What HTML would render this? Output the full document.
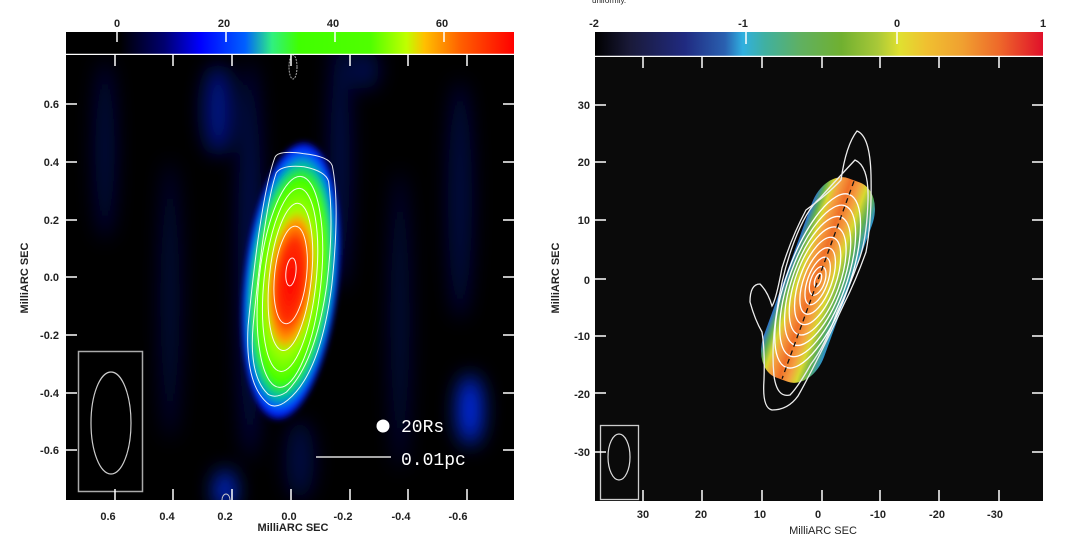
<!DOCTYPE html>
<html><head><meta charset="utf-8"><style>
html,body{margin:0;padding:0;background:#fff;}
svg{display:block;}
text{font-family:"Liberation Sans",sans-serif;font-weight:bold;font-size:11px;fill:#222;}
.m{font-family:"Liberation Mono",monospace;font-weight:normal;font-size:18px;fill:#fff;}
</style></head><body>
<svg width="1075" height="547" viewBox="0 0 1075 547">
<defs>
<linearGradient id="cb1" x1="0" x2="1" y1="0" y2="0">
<stop offset="0" stop-color="#000"/><stop offset="0.12" stop-color="#000"/>
<stop offset="0.22" stop-color="#000070"/><stop offset="0.3" stop-color="#0000ff"/>
<stop offset="0.4" stop-color="#0060ff"/><stop offset="0.46" stop-color="#30f080"/>
<stop offset="0.52" stop-color="#40ff00"/><stop offset="0.68" stop-color="#50ff00"/>
<stop offset="0.76" stop-color="#c0ff00"/><stop offset="0.8" stop-color="#ffc000"/>
<stop offset="0.88" stop-color="#ff6000"/><stop offset="1" stop-color="#ff0000"/>
</linearGradient>
<linearGradient id="cb2" x1="0" x2="1" y1="0" y2="0">
<stop offset="0" stop-color="#000"/><stop offset="0.08" stop-color="#1a1a3a"/>
<stop offset="0.2" stop-color="#202a80"/><stop offset="0.29" stop-color="#2a60b0"/>
<stop offset="0.33" stop-color="#30b0e0"/><stop offset="0.38" stop-color="#40b0a0"/>
<stop offset="0.46" stop-color="#60b060"/><stop offset="0.55" stop-color="#70b030"/>
<stop offset="0.63" stop-color="#a8c838"/><stop offset="0.68" stop-color="#e0e030"/>
<stop offset="0.74" stop-color="#f0c030"/><stop offset="0.82" stop-color="#f0a030"/>
<stop offset="0.9" stop-color="#ee6a2a"/><stop offset="1" stop-color="#e0102a"/>
</linearGradient>
<radialGradient id="src1" cx="0.5" cy="0.5" r="0.5">
<stop offset="0" stop-color="#ff0000"/><stop offset="0.28" stop-color="#ff3000"/>
<stop offset="0.42" stop-color="#ffa000"/><stop offset="0.5" stop-color="#a0ff00"/>
<stop offset="0.72" stop-color="#40ff00"/><stop offset="0.82" stop-color="#00c0a0"/>
<stop offset="0.9" stop-color="#0050ff"/><stop offset="0.96" stop-color="#0010e0"/>
<stop offset="1" stop-color="#000030" stop-opacity="0"/>
</radialGradient>
<linearGradient id="src2" x1="0" x2="1" y1="0" y2="0">
<stop offset="0" stop-color="#2a70d0"/><stop offset="0.1" stop-color="#60b050"/>
<stop offset="0.2" stop-color="#d8d830"/><stop offset="0.3" stop-color="#f4a040"/>
<stop offset="0.45" stop-color="#f07028"/><stop offset="0.6" stop-color="#f4a040"/>
<stop offset="0.72" stop-color="#d8d830"/><stop offset="0.86" stop-color="#60b050"/>
<stop offset="1" stop-color="#2a90d0"/>
</linearGradient>
<filter id="bl" x="-50%" y="-50%" width="200%" height="200%"><feGaussianBlur stdDeviation="10"/></filter>
<filter id="bl2" x="-50%" y="-50%" width="200%" height="200%"><feGaussianBlur stdDeviation="3"/></filter>
<clipPath id="c1"><rect x="66" y="55" width="448" height="445"/></clipPath>
</defs>

<!-- LEFT PANEL -->
<rect x="66" y="32" width="448" height="22" fill="url(#cb1)"/>
<g stroke="#fff" stroke-width="1.5">
<line x1="117" y1="32" x2="117" y2="42"/><line x1="226" y1="32" x2="226" y2="42"/>
<line x1="335" y1="32" x2="335" y2="42"/><line x1="444" y1="32" x2="444" y2="42"/>
<line x1="66" y1="54.5" x2="514" y2="54.5"/>
</g>
<text x="117" y="27" text-anchor="middle">0</text><text x="224" y="27" text-anchor="middle">20</text>
<text x="333" y="27" text-anchor="middle">40</text><text x="442" y="27" text-anchor="middle">60</text>

<rect x="66" y="55" width="448" height="445" fill="#000"/>
<g clip-path="url(#c1)">
<g filter="url(#bl)" fill="#0018c0">
<ellipse cx="218" cy="110" rx="14" ry="45" opacity="0.7"/>
<ellipse cx="105" cy="150" rx="10" ry="90" opacity="0.35"/>
<ellipse cx="170" cy="300" rx="10" ry="140" opacity="0.3"/>
<ellipse cx="250" cy="260" rx="12" ry="200" opacity="0.4"/>
<ellipse cx="340" cy="160" rx="10" ry="130" opacity="0.4"/>
<ellipse cx="400" cy="320" rx="10" ry="150" opacity="0.3"/>
<ellipse cx="460" cy="200" rx="12" ry="120" opacity="0.35"/>
<ellipse cx="470" cy="410" rx="12" ry="35" fill="#0030ff" opacity="0.95"/>
<ellipse cx="225" cy="490" rx="10" ry="20" fill="#0030ff" opacity="0.9"/>
<ellipse cx="300" cy="460" rx="14" ry="40" opacity="0.35"/>
<ellipse cx="365" cy="70" rx="14" ry="20" opacity="0.4"/>
</g>
<g transform="rotate(6 291 281)">
<ellipse cx="291" cy="281" rx="48" ry="142" fill="url(#src1)" filter="url(#bl2)"/>
<g fill="none" stroke="#fff" stroke-width="1" opacity="0.9">
<path d="M262 160 Q264 152 290 153 Q316 153 320 162 Q332 200 332 281 Q330 370 300 400 Q290 410 282 406 Q256 390 253 330 Q252 200 262 160 Z"/>
<path d="M265 175 Q270 166 292 166 Q314 168 318 178 Q328 220 327 281 Q324 360 298 392 Q288 400 280 396 Q259 380 258 330 Q257 210 265 175 Z"/>
<ellipse cx="290" cy="282" rx="31" ry="106"/>
<ellipse cx="290" cy="280" rx="26" ry="92"/>
<ellipse cx="290" cy="277" rx="21" ry="74"/>
<ellipse cx="290" cy="275" rx="16" ry="49"/>
<ellipse cx="290" cy="272" rx="5" ry="14"/>
</g>
</g>
<ellipse cx="293" cy="67" rx="4" ry="12" fill="none" stroke="#aaa" stroke-dasharray="2 1"/>
<ellipse cx="226" cy="500" rx="4" ry="6" fill="none" stroke="#ccc"/>
</g>
<rect x="78.5" y="351.5" width="64" height="140" fill="none" stroke="#aaa" stroke-width="1.5"/>
<ellipse cx="111" cy="423" rx="20" ry="51" fill="none" stroke="#ccc" stroke-width="1.2"/>
<circle cx="383" cy="426" r="6.5" fill="#fff"/>
<text class="m" x="401" y="432">20Rs</text>
<line x1="316" y1="457" x2="391" y2="457" stroke="#ddd" stroke-width="1.5"/>
<text class="m" x="401" y="465">0.01pc</text>
<g stroke="#fff" stroke-width="1.5">
<line x1="115" y1="55" x2="115" y2="66"/><line x1="173" y1="55" x2="173" y2="66"/><line x1="232" y1="55" x2="232" y2="66"/><line x1="291" y1="55" x2="291" y2="66"/><line x1="350" y1="55" x2="350" y2="66"/><line x1="408" y1="55" x2="408" y2="66"/><line x1="467" y1="55" x2="467" y2="66"/>
<line x1="115" y1="489" x2="115" y2="500"/><line x1="173" y1="489" x2="173" y2="500"/><line x1="232" y1="489" x2="232" y2="500"/><line x1="291" y1="489" x2="291" y2="500"/><line x1="350" y1="489" x2="350" y2="500"/><line x1="408" y1="489" x2="408" y2="500"/><line x1="467" y1="489" x2="467" y2="500"/>
<line x1="66" y1="104" x2="77" y2="104"/><line x1="66" y1="162" x2="77" y2="162"/><line x1="66" y1="220" x2="77" y2="220"/><line x1="66" y1="277" x2="77" y2="277"/><line x1="66" y1="335" x2="77" y2="335"/><line x1="66" y1="393" x2="77" y2="393"/><line x1="66" y1="450" x2="77" y2="450"/>
<line x1="503" y1="104" x2="514" y2="104"/><line x1="503" y1="162" x2="514" y2="162"/><line x1="503" y1="220" x2="514" y2="220"/><line x1="503" y1="277" x2="514" y2="277"/><line x1="503" y1="335" x2="514" y2="335"/><line x1="503" y1="393" x2="514" y2="393"/><line x1="503" y1="450" x2="514" y2="450"/>
</g>
<g text-anchor="end">
<text x="59" y="108">0.6</text><text x="59" y="166">0.4</text><text x="59" y="224">0.2</text><text x="59" y="281">0.0</text><text x="59" y="339">-0.2</text><text x="59" y="397">-0.4</text><text x="59" y="454">-0.6</text>
</g>
<g text-anchor="middle">
<text x="108" y="520">0.6</text><text x="167" y="520">0.4</text><text x="225" y="520">0.2</text><text x="289" y="520">0.0</text><text x="343" y="520">-0.2</text><text x="401" y="520">-0.4</text><text x="458" y="520">-0.6</text>
<text x="293" y="531">MilliARC SEC</text>
</g>
<text transform="translate(28 278) rotate(-90)" text-anchor="middle">MilliARC SEC</text>

<!-- RIGHT PANEL -->
<rect x="595" y="32" width="448" height="24" fill="url(#cb2)"/>
<g stroke="#fff" stroke-width="1.5">
<line x1="746" y1="32" x2="746" y2="44"/><line x1="897" y1="32" x2="897" y2="44"/>
<line x1="595" y1="56.5" x2="1043" y2="56.5"/>
</g>
<text x="594" y="27" text-anchor="middle">-2</text><text x="743" y="27" text-anchor="middle">-1</text>
<text x="897" y="27" text-anchor="middle">0</text><text x="1043" y="27" text-anchor="middle">1</text>
<text x="592" y="3" style="font-size:8px;font-weight:normal">uniformly.</text>

<rect x="595" y="57" width="448" height="444" fill="#0a0a0a"/>
<g transform="rotate(20 818 280)">
<rect x="786" y="174" width="64" height="212" rx="26" ry="36" fill="url(#src2)"/>
</g>
<g fill="none" stroke="#eee" stroke-width="1.3">
<path d="M857 131 Q870 136 871 175 Q872 220 866 252 Q856 280 844 304 Q830 334 820 354 Q806 382 798 396 Q788 410 772 410 Q762 408 764 380 Q765 350 762 332 Q755 320 750 302 Q750 284 760 284 Q768 292 772 306 Q776 300 782 268 Q792 236 806 210 Q828 194 841 180 Q846 145 857 131 Z"/>
<path d="M855 160 Q869 166 868 200 Q867 238 859 260 Q849 288 837 312 Q825 346 811 364 Q798 387 790 395 Q777 398 774 376 Q771 345 777 310 Q782 274 794 242 Q806 210 820 198 Q840 176 855 160 Z"/>
</g>
<g fill="none" stroke="#fff" stroke-width="1.3" transform="rotate(20 818 280)">
<ellipse cx="818" cy="281" rx="31" ry="92"/>
<ellipse cx="818" cy="281" rx="28" ry="80"/>
<ellipse cx="818" cy="281" rx="25" ry="68"/>
<ellipse cx="818" cy="281" rx="22" ry="57"/>
<ellipse cx="818" cy="281" rx="18" ry="46"/>
<ellipse cx="818" cy="281" rx="14" ry="35"/>
<ellipse cx="818" cy="281" rx="10" ry="25"/>
<ellipse cx="818" cy="281" rx="7" ry="15"/>
<ellipse cx="818" cy="280" rx="3" ry="7"/>
<line x1="818" y1="175" x2="818" y2="385" stroke="#111" stroke-dasharray="5 4"/>
</g>
<rect x="600.5" y="425.5" width="38" height="74" fill="none" stroke="#ccc" stroke-width="1.3"/>
<ellipse cx="619" cy="457" rx="11" ry="23" fill="none" stroke="#ddd" stroke-width="1.2"/>
<g stroke="#fff" stroke-width="1.5">
<line x1="643" y1="57" x2="643" y2="68"/><line x1="702" y1="57" x2="702" y2="68"/><line x1="762" y1="57" x2="762" y2="68"/><line x1="822" y1="57" x2="822" y2="68"/><line x1="880" y1="57" x2="880" y2="68"/><line x1="939" y1="57" x2="939" y2="68"/><line x1="999" y1="57" x2="999" y2="68"/>
<line x1="643" y1="490" x2="643" y2="501"/><line x1="702" y1="490" x2="702" y2="501"/><line x1="762" y1="490" x2="762" y2="501"/><line x1="822" y1="490" x2="822" y2="501"/><line x1="880" y1="490" x2="880" y2="501"/><line x1="939" y1="490" x2="939" y2="501"/><line x1="999" y1="490" x2="999" y2="501"/>
<line x1="595" y1="105" x2="606" y2="105"/><line x1="595" y1="162" x2="606" y2="162"/><line x1="595" y1="220" x2="606" y2="220"/><line x1="595" y1="279" x2="606" y2="279"/><line x1="595" y1="336" x2="606" y2="336"/><line x1="595" y1="393" x2="606" y2="393"/><line x1="595" y1="452" x2="606" y2="452"/>
<line x1="1032" y1="105" x2="1043" y2="105"/><line x1="1032" y1="162" x2="1043" y2="162"/><line x1="1032" y1="220" x2="1043" y2="220"/><line x1="1032" y1="279" x2="1043" y2="279"/><line x1="1032" y1="336" x2="1043" y2="336"/><line x1="1032" y1="393" x2="1043" y2="393"/><line x1="1032" y1="452" x2="1043" y2="452"/>
</g>
<g text-anchor="end">
<text x="590" y="109">30</text><text x="590" y="166">20</text><text x="590" y="224">10</text><text x="590" y="284">0</text><text x="590" y="340">-10</text><text x="590" y="398">-20</text><text x="590" y="456">-30</text>
</g>
<g text-anchor="middle">
<text x="643" y="518">30</text><text x="701" y="518">20</text><text x="760" y="518">10</text><text x="818" y="518">0</text><text x="878" y="518">-10</text><text x="937" y="518">-20</text><text x="995" y="518">-30</text>
<text x="823" y="534" style="font-weight:normal">MilliARC SEC</text>
</g>
<text transform="translate(559 278) rotate(-90)" text-anchor="middle">MilliARC SEC</text>
</svg>
</body></html>
